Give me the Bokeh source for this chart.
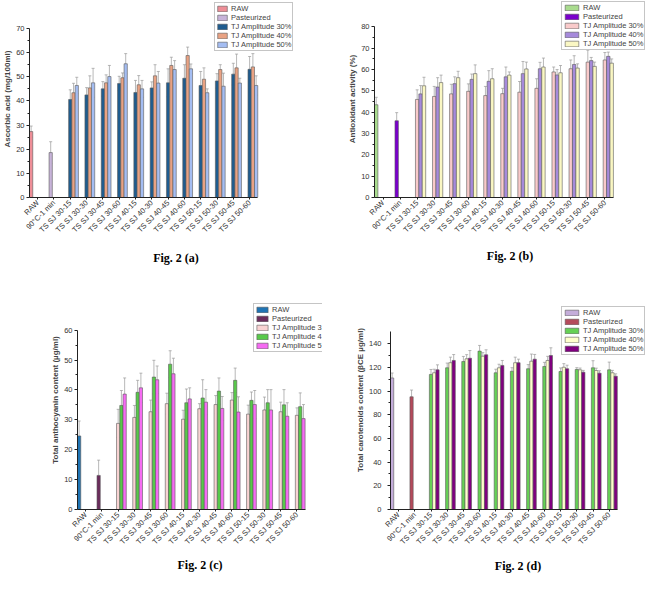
import math
from bokeh.plotting import figure
from bokeh.models import (ColumnDataSource, Range1d, FixedTicker, Whisker, TeeHead,
                          Legend, LegendItem, Title)
from bokeh.layouts import row, column
from bokeh.embed import file_html
from bokeh.resources import INLINE

CATEGORIES = ["RAW", "90°C-1 min", "TS SJ 30-15", "TS SJ 30-30", "TS SJ 30-45", "TS SJ 30-60",
              "TS SJ 40-15", "TS SJ 40-30", "TS SJ 40-45", "TS SJ 40-60",
              "TS SJ 50-15", "TS SJ 50-30", "TS SJ 50-45", "TS SJ 50-60"]

# ---- Fig. 2 (a) Ascorbic acid ----
A_LABELS = ["RAW", "Pasteurized", "TJ Amplitude 30%", "TJ Amplitude 40%", "TJ Amplitude 50%"]
A_RAW = [27.3]
A_RAW_ERR = [2.3]
A_PAST = [18.6]
A_PAST_ERR = [4.5]
A_TJ30 = [40.6, 42.5, 45.0, 47.2, 43.5, 45.4, 47.5, 49.4, 46.4, 48.3, 51.1, 53.1]
A_TJ30_ERR = [4.0, 3.0, 3.0, 3.0, 5.0, 2.5, 5.8, 5.6, 5.8, 3.0, 4.5, 5.3]
A_TJ40 = [43.4, 45.4, 47.5, 49.6, 46.7, 50.4, 54.7, 58.8, 49.0, 53.0, 53.7, 54.1]
A_TJ40_ERR = [3.9, 5.0, 3.3, 2.0, 3.8, 4.6, 3.4, 3.5, 4.7, 2.0, 5.7, 5.5]
A_TJ50 = [46.4, 47.5, 50.1, 55.4, 45.0, 47.4, 53.0, 53.3, 43.4, 46.1, 47.4, 46.4]
A_TJ50_ERR = [3.4, 6.0, 4.6, 4.2, 3.5, 4.8, 3.7, 2.0, 1.6, 5.4, 2.0, 4.0]

# ---- Fig. 2 (b) Antioxidant activity ----
B_LABELS = ["RAW", "Pasteurized", "TJ Amplitude 30%", "TJ Amplitude 40%", "TJ Amplitude 50%"]
B_RAW = [43.5]
B_RAW_ERR = [3.5]
B_PAST = [36.0]
B_PAST_ERR = [3.8]
B_TJ30 = [46.0, 47.4, 48.6, 49.8, 47.8, 48.7, 49.4, 51.2, 58.9, 60.4, 63.5, 64.5]
B_TJ30_ERR = [4.5, 4.7, 4.5, 3.5, 4.3, 2.5, 5.0, 4.5, 2.3, 4.1, 5.6, 3.5]
B_TJ40 = [48.6, 51.8, 53.4, 55.4, 54.5, 56.6, 58.1, 60.4, 57.5, 62.4, 64.2, 66.2]
B_TJ40_ERR = [3.9, 4.4, 3.2, 2.5, 5.0, 4.6, 5.7, 3.0, 2.5, 4.1, 1.5, 2.0]
B_TJ50 = [52.4, 53.9, 56.2, 58.1, 55.7, 57.4, 60.3, 61.2, 58.5, 60.7, 61.5, 63.0]
B_TJ50_ERR = [4.0, 3.5, 3.0, 4.1, 4.7, 1.5, 3.2, 4.2, 3.4, 2.0, 2.0, 2.0]

# ---- Fig. 2 (c) Total anthocyanin ----
C_LABELS = ["RAW", "Pasteurized", "TJ Amplitude 3", "TJ Amplitude 4", "TJ Amplitude 5"]
C_RAW = [24.6]
C_RAW_ERR = [5.0]
C_PAST = [11.4]
C_PAST_ERR = [5.1]
C_TJ3 = [28.8, 30.8, 32.7, 35.4, 30.2, 33.7, 35.1, 36.6, 31.9, 33.3, 32.7, 31.5]
C_TJ3_ERR = [4.7, 4.0, 3.9, 3.5, 3.0, 1.7, 3.0, 2.5, 3.0, 4.3, 3.2, 2.5]
C_TJ4 = [34.8, 39.2, 44.3, 48.6, 35.7, 37.3, 39.6, 43.2, 36.5, 35.7, 35.0, 34.4]
C_TJ4_ERR = [5.0, 4.0, 5.6, 4.5, 4.6, 6.1, 4.4, 4.1, 2.8, 4.4, 5.1, 4.6]
C_TJ5 = [38.6, 40.7, 43.4, 45.4, 37.0, 35.9, 33.8, 32.6, 35.1, 33.3, 31.2, 30.4]
C_TJ5_ERR = [5.4, 4.9, 4.6, 5.2, 3.7, 4.2, 4.0, 5.1, 4.7, 6.8, 4.5, 4.7]

# ---- Fig. 2 (d) Total carotenoids ----
D_LABELS = ["RAW", "Pasteurized", "TJ Amplitude 30%", "TJ Amplitude 40%", "TJ Amplitude 50%"]
D_RAW = [111.1]
D_RAW_ERR = [4.2]
D_PAST = [95.2]
D_PAST_ERR = [5.7]
D_TJ30 = [114.1, 119.7, 125.0, 133.8, 115.5, 116.8, 118.9, 120.8, 116.6, 118.3, 119.7, 118.0]
D_TJ30_ERR = [4.2, 4.0, 4.3, 4.8, 3.0, 3.0, 3.5, 3.5, 3.0, 1.5, 6.0, 6.5]
D_TJ40 = [115.5, 124.0, 127.3, 129.5, 119.7, 124.0, 125.3, 125.9, 120.2, 118.0, 117.4, 115.5]
D_TJ40_ERR = [3.0, 4.7, 3.5, 3.0, 3.0, 4.7, 6.0, 3.5, 3.0, 1.5, 2.0, 2.0]
D_TJ50 = [118.0, 125.9, 127.8, 130.7, 121.7, 124.0, 127.0, 130.1, 118.9, 116.0, 115.2, 112.6]
D_TJ50_ERR = [4.2, 5.0, 6.5, 4.2, 4.2, 3.0, 4.0, 6.5, 3.0, 1.5, 2.0, 2.0]

SANS = "Liberation Sans"
SERIF = "Liberation Serif"
SLOT = 0.2


def panel(width, height, border_left, border_bottom, x_end, y_end, y_max, y_ticks, y_minor,
          ylabel, labels, colors, series, legend_loc, glyph_w, caption, cap_offset,
          cap_standoff, label_standoff=2):
    p = figure(width=width, height=height, x_range=Range1d(-0.5, x_end),
               y_range=Range1d(0, y_end), output_backend="svg", toolbar_location=None,
               min_border_left=border_left, min_border_right=0, min_border_top=0,
               min_border_bottom=border_bottom)
    p.outline_line_color = None
    p.xgrid.visible = False
    p.ygrid.visible = False
    p.background_fill_color = "white"

    items = []
    starts = [0, 1, 2, 2, 2]
    for j, (vals, errs) in enumerate(series):
        xs = [starts[j] + i + (j - 2) * SLOT for i in range(len(vals))]
        src = ColumnDataSource(dict(x=xs, top=vals,
                                    upper=[v + e for v, e in zip(vals, errs)],
                                    lower=[v - e for v, e in zip(vals, errs)]))
        r = p.vbar(x="x", top="top", width=SLOT, bottom=0, source=src,
                   fill_color=colors[j], line_color="#5a5a5a", line_width=0.6)
        w = Whisker(source=src, base="x", upper="upper", lower="lower",
                    line_color="#9a9a9a", line_width=0.7,
                    upper_head=TeeHead(size=3, line_color="#9a9a9a", line_width=0.7),
                    lower_head=TeeHead(size=3, line_color="#9a9a9a", line_width=0.7))
        p.add_layout(w)
        items.append(LegendItem(label=labels[j], renderers=[r]))

    leg = Legend(items=items, location=legend_loc, margin=0, padding=1, spacing=0,
                 glyph_width=glyph_w, glyph_height=7, label_height=8, label_standoff=3,
                 label_text_font=SANS, label_text_font_size="7.5px",
                 border_line_color="#8c8c8c", border_line_width=0.8,
                 background_fill_color="white", background_fill_alpha=1.0)
    p.add_layout(leg)

    ya = p.yaxis[0]
    ya.bounds = (0, y_max)
    ya.ticker = FixedTicker(ticks=y_ticks, minor_ticks=y_minor)
    ya.axis_label = ylabel
    ya.axis_label_text_font = SANS
    ya.axis_label_text_font_style = "bold"
    ya.axis_label_text_font_size = "8px"
    ya.axis_label_standoff = 1
    ya.major_label_text_font = SANS
    ya.major_label_text_font_size = "7.5px"
    ya.major_label_text_color = "#333333"
    ya.major_label_standoff = label_standoff
    ya.major_tick_in = 0
    ya.major_tick_out = 3
    ya.minor_tick_in = 0
    ya.minor_tick_out = 2
    ya.axis_line_color = "#222222"
    ya.major_tick_line_color = "#222222"
    ya.minor_tick_line_color = "#222222"

    xa = p.xaxis[0]
    xa.bounds = (-0.5, 13.5)
    xa.ticker = FixedTicker(ticks=list(range(len(CATEGORIES))), minor_ticks=[])
    xa.major_label_overrides = {i: c for i, c in enumerate(CATEGORIES)}
    xa.major_label_orientation = math.pi / 4
    xa.major_label_text_font = SANS
    xa.major_label_text_font_size = "7.5px"
    xa.major_label_text_color = "#333333"
    xa.major_label_standoff = 2
    xa.major_tick_in = 0
    xa.major_tick_out = 2
    xa.axis_line_color = "#222222"
    xa.major_tick_line_color = "#222222"

    p.add_layout(Title(text=caption, align="center", offset=cap_offset, standoff=cap_standoff,
                       text_font=SERIF, text_font_style="bold", text_font_size="12px",
                       text_color="black"), "below")
    return p


pa = panel(322, 290, 28, 93, 17.47, 81.6, 70, list(range(0, 71, 10)), list(range(5, 70, 10)),
           "Ascorbic acid (mg/100ml)", A_LABELS,
           ["#EE8E97", "#C7B3D9", "#1F5C8F", "#E9A283", "#A4BDF2"],
           [(A_RAW, A_RAW_ERR), (A_PAST, A_PAST_ERR), (A_TJ30, A_TJ30_ERR),
            (A_TJ40, A_TJ40_ERR), (A_TJ50, A_TJ50_ERR)],
           (185, 146), 12, "Fig. 2 (a)", -34, 16)

pb = panel(323, 290, 52, 87, 15.38, 92.4, 80, list(range(0, 81, 10)), list(range(5, 80, 10)),
           "Antioxidant activity (%)", B_LABELS,
           ["#A9DB8E", "#7A00CC", "#F9CACA", "#A68ADB", "#FAF7C3"],
           [(B_RAW, B_RAW_ERR), (B_PAST, B_PAST_ERR), (B_TJ30, B_TJ30_ERR),
            (B_TJ40, B_TJ40_ERR), (B_TJ50, B_TJ50_ERR)],
           (187, 147), 17, "Fig. 2 (b)", -22, 12)

pc = panel(322, 287, 77, 66, 14.57, 73.25, 60, list(range(0, 61, 10)), list(range(5, 60, 10)),
           "Total anthocyanin content (µg/ml)", C_LABELS,
           ["#1F74B4", "#6B2C5C", "#F9D3D3", "#58C94A", "#F56BF2"],
           [(C_RAW, C_RAW_ERR), (C_PAST, C_PAST_ERR), (C_TJ3, C_TJ3_ERR),
            (C_TJ4, C_TJ4_ERR), (C_TJ5, C_TJ5_ERR)],
           (176, 157), 14, "Fig. 2 (c)", -58, 7)

pd_ = panel(323, 287, 68, 68, 15.24, 185.0, 150, list(range(0, 141, 20)), list(range(10, 150, 20)),
            "Total carotenoids content (βCE µg/ml)", D_LABELS,
            ["#C4ADDA", "#B54A5B", "#66D155", "#FFFFCC", "#80007F"],
            [(D_RAW, D_RAW_ERR), (D_PAST, D_PAST_ERR), (D_TJ30, D_TJ30_ERR),
             (D_TJ40, D_TJ40_ERR), (D_TJ50, D_TJ50_ERR)],
            (171, 154), 17, "Fig. 2 (d)", -30, 9, label_standoff=6)

layout = column(row(pa, pb), row(pc, pd_))
open("out.html", "w").write(file_html(layout, INLINE))
